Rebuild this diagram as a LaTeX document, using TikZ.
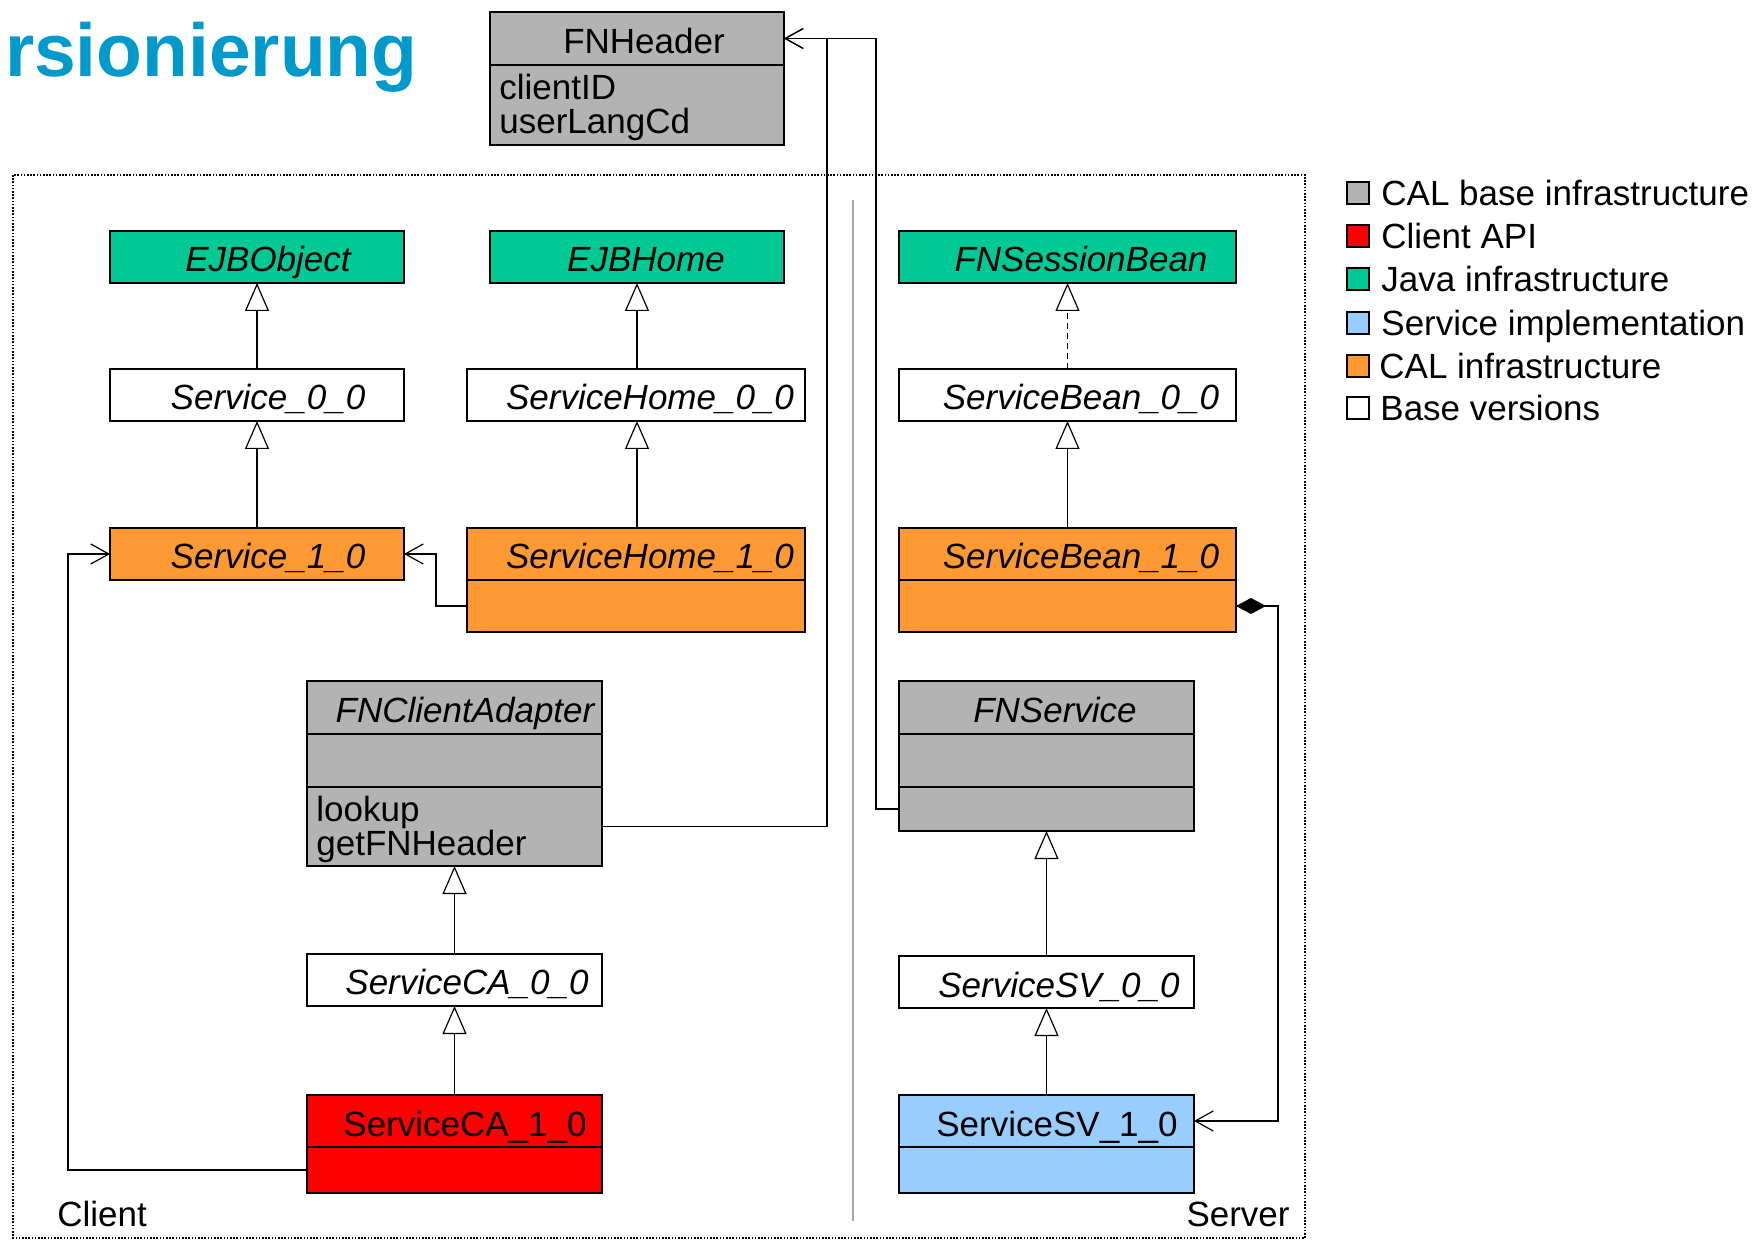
\documentclass[tikz,border=0pt]{standalone}
\usepackage{fontspec}
\setmainfont{Liberation Sans}
\usetikzlibrary{arrows.meta}
\definecolor{calgray}{RGB}{179,179,179}
\definecolor{javagreen}{RGB}{0,201,150}
\definecolor{calorange}{RGB}{255,153,51}
\definecolor{apired}{RGB}{255,0,0}
\definecolor{implblue}{RGB}{153,204,255}
\definecolor{titleblue}{RGB}{0,153,204}
\definecolor{sepgray}{RGB}{166,166,166}
\begin{document}
\begin{tikzpicture}[x=0.5pt,y=-0.5pt,
  box/.style={draw, line width=1pt, inner sep=0pt, outer sep=0pt, anchor=north west},
  lbl/.style={inner sep=0pt, font=\fontsize{17.5}{21}\selectfont, anchor=base},
  ilbl/.style={lbl, font=\fontsize{17.5}{21}\selectfont\itshape},
  inh/.style={line width=0.6pt, -{Triangle[open, length=14pt, width=12pt, fill=white]}},
  assoc/.style={line width=0.6pt, -{Straight Barb[length=9pt, width=10pt]}},
  divl/.style={line width=1pt},
  legsq/.style={draw, line width=0.7pt, inner sep=0pt, minimum size=11pt, anchor=center}]
\useasboundingbox (0,0) rectangle (1757,1240);

% title
\node[anchor=base east, inner sep=0pt, font=\bfseries\fontsize{37.5}{41}\selectfont, text=titleblue] (title) at (418,77) {rsionierung};

% frame and separator
\draw[line width=0.8pt, dash pattern=on 0.8pt off 0.8pt] (13,175) rectangle (1305,1238);
\draw[sepgray, line width=1pt] (853,200) -- (853,1221);
\node[lbl, anchor=base west] (client) at (57,1226) {Client};
\node[lbl, anchor=base east] (server) at (1290,1226) {Server};

% boxes
\node[box, fill=calgray, minimum width=147pt, minimum height=66.5pt] (FNHeader) at (490,12) {};
\draw[divl] ([yshift=-26.5pt]FNHeader.north west) -- ([yshift=-26.5pt]FNHeader.north east);
\node[lbl] (tFNHeader) at (644,54) {FNHeader};
\node[lbl, anchor=base west] (tclientID) at (499,100) {clientID};
\node[lbl, anchor=base west] (tuserLang) at (499,134) {userLangCd};

\node[box, fill=javagreen, minimum width=147pt, minimum height=26pt] (EJBObject) at (110,231) {};
\node[ilbl] (tEJBObject) at (268,272) {EJBObject};
\node[box, fill=javagreen, minimum width=147pt, minimum height=26pt] (EJBHome) at (490,231) {};
\node[ilbl] (tEJBHome) at (646,272) {EJBHome};
\node[box, fill=javagreen, minimum width=168.5pt, minimum height=26pt] (FNSessionBean) at (899,231) {};
\node[ilbl] (tFNSessionBean) at (1081,272) {FNSessionBean};

\node[box, fill=white, minimum width=147pt, minimum height=26pt] (Service00) at (110,369) {};
\node[ilbl] (tService00) at (268,410) {Service\_0\_0};
\node[box, fill=white, minimum width=169pt, minimum height=26pt] (ServiceHome00) at (467,369) {};
\node[ilbl] (tServiceHome00) at (650,410) {ServiceHome\_0\_0};
\node[box, fill=white, minimum width=168.5pt, minimum height=26pt] (ServiceBean00) at (899,369) {};
\node[ilbl] (tServiceBean00) at (1081,410) {ServiceBean\_0\_0};

\node[box, fill=calorange, minimum width=147pt, minimum height=26pt] (Service10) at (110,528) {};
\node[ilbl] (tService10) at (268,569) {Service\_1\_0};
\node[box, fill=calorange, minimum width=169pt, minimum height=52pt] (ServiceHome10) at (467,528) {};
\draw[divl] ([yshift=-26pt]ServiceHome10.north west) -- ([yshift=-26pt]ServiceHome10.north east);
\node[ilbl] (tServiceHome10) at (650,569) {ServiceHome\_1\_0};
\node[box, fill=calorange, minimum width=168.5pt, minimum height=52pt] (ServiceBean10) at (899,528) {};
\draw[divl] ([yshift=-26pt]ServiceBean10.north west) -- ([yshift=-26pt]ServiceBean10.north east);
\node[ilbl] (tServiceBean10) at (1081,569) {ServiceBean\_1\_0};

\node[box, fill=calgray, minimum width=147.5pt, minimum height=92.5pt] (FNClientAdapter) at (307,681) {};
\draw[divl] ([yshift=-26.5pt]FNClientAdapter.north west) -- ([yshift=-26.5pt]FNClientAdapter.north east);
\draw[divl] ([yshift=-53pt]FNClientAdapter.north west) -- ([yshift=-53pt]FNClientAdapter.north east);
\node[ilbl] (tFNClientAdapter) at (465,723) {FNClientAdapter};
\node[lbl, anchor=base west] (tlookup) at (316,821) {lookup};
\node[lbl, anchor=base west] (tgetFNHeader) at (316,855) {getFNHeader};

\node[box, fill=calgray, minimum width=147.5pt, minimum height=75pt] (FNService) at (899,681) {};
\draw[divl] ([yshift=-26.5pt]FNService.north west) -- ([yshift=-26.5pt]FNService.north east);
\draw[divl] ([yshift=-53pt]FNService.north west) -- ([yshift=-53pt]FNService.north east);
\node[ilbl] (tFNService) at (1055,723) {FNService};

\node[box, fill=white, minimum width=147.5pt, minimum height=26pt] (ServiceCA00) at (307,954) {};
\node[ilbl] (tServiceCA00) at (467,994) {ServiceCA\_0\_0};
\node[box, fill=apired, minimum width=147.5pt, minimum height=49pt] (ServiceCA10) at (307,1095) {};
\draw[divl] ([yshift=-26pt]ServiceCA10.north west) -- ([yshift=-26pt]ServiceCA10.north east);
\node[lbl] (tServiceCA10) at (465,1136) {ServiceCA\_1\_0};

\node[box, fill=white, minimum width=147.5pt, minimum height=26pt] (ServiceSV00) at (899,956) {};
\node[ilbl] (tServiceSV00) at (1059,997) {ServiceSV\_0\_0};
\node[box, fill=implblue, minimum width=147.5pt, minimum height=49pt] (ServiceSV10) at (899,1095) {};
\draw[divl] ([yshift=-26pt]ServiceSV10.north west) -- ([yshift=-26pt]ServiceSV10.north east);
\node[lbl] (tServiceSV10) at (1057,1136) {ServiceSV\_1\_0};

% generalisations
\draw[inh] (Service00.north) -- (EJBObject.south);
\draw[inh] (EJBHome.south |- ServiceHome00.north) -- (EJBHome.south);
\draw[inh, dash pattern=on 3pt off 2pt] (ServiceBean00.north) -- (FNSessionBean.south);
\draw[inh] (Service10.north) -- (Service00.south);
\draw[inh] (EJBHome.south |- ServiceHome10.north) -- (EJBHome.south |- ServiceHome00.south);
\draw[inh] (ServiceBean10.north) -- (ServiceBean00.south);
\draw[inh] (ServiceCA00.north) -- (FNClientAdapter.south);
\draw[inh] (ServiceCA10.north) -- (ServiceCA00.south);
\draw[inh] (ServiceSV00.north) -- (FNService.south);
\draw[inh] (ServiceSV10.north) -- (ServiceSV00.south);

% associations
\draw[assoc] ([yshift=-13pt]ServiceCA10.west) -| ([xshift=-21pt]Service10.west) -- (Service10.west);
\draw[assoc] ([yshift=-13pt]ServiceHome10.west) -| ([xshift=16pt]Service10.east) -- (Service10.east);
\draw[assoc] ([yshift=-26.5pt]FNClientAdapter.east) -| ([xshift=21.5pt,yshift=20pt]FNHeader.east) -- ([yshift=20pt]FNHeader.east);
\draw[assoc] ([yshift=-26.5pt]FNService.west) -| ([xshift=46pt,yshift=20pt]FNHeader.east) -- ([yshift=20pt]FNHeader.east);
\draw[line width=0.6pt, {Diamond[length=15pt, width=8pt]}-{Straight Barb[length=9pt, width=10pt]}] ([yshift=-13pt]ServiceBean10.east) -| ([xshift=42pt,yshift=11.5pt]ServiceSV10.east) -- ([yshift=11.5pt]ServiceSV10.east);

% legend
\node[legsq, fill=calgray] (lg1) at (1358,193) {};
\node[lbl, anchor=base west] (lt1) at (1381,206) {CAL base infrastructure};
\node[legsq, fill=apired] (lg2) at (1358,236) {};
\node[lbl, anchor=base west] (lt2) at (1381,249) {Client API};
\node[legsq, fill=javagreen] (lg3) at (1358,279) {};
\node[lbl, anchor=base west] (lt3) at (1381,292) {Java infrastructure};
\node[legsq, fill=implblue] (lg4) at (1358,323) {};
\node[lbl, anchor=base west] (lt4) at (1381,336) {Service implementation};
\node[legsq, fill=calorange] (lg5) at (1358,366) {};
\node[lbl, anchor=base west] (lt5) at (1379,379) {CAL infrastructure};
\node[legsq, fill=white] (lg6) at (1358,408) {};
\node[lbl, anchor=base west] (lt6) at (1380,421) {Base versions};
\end{tikzpicture}
\end{document}
